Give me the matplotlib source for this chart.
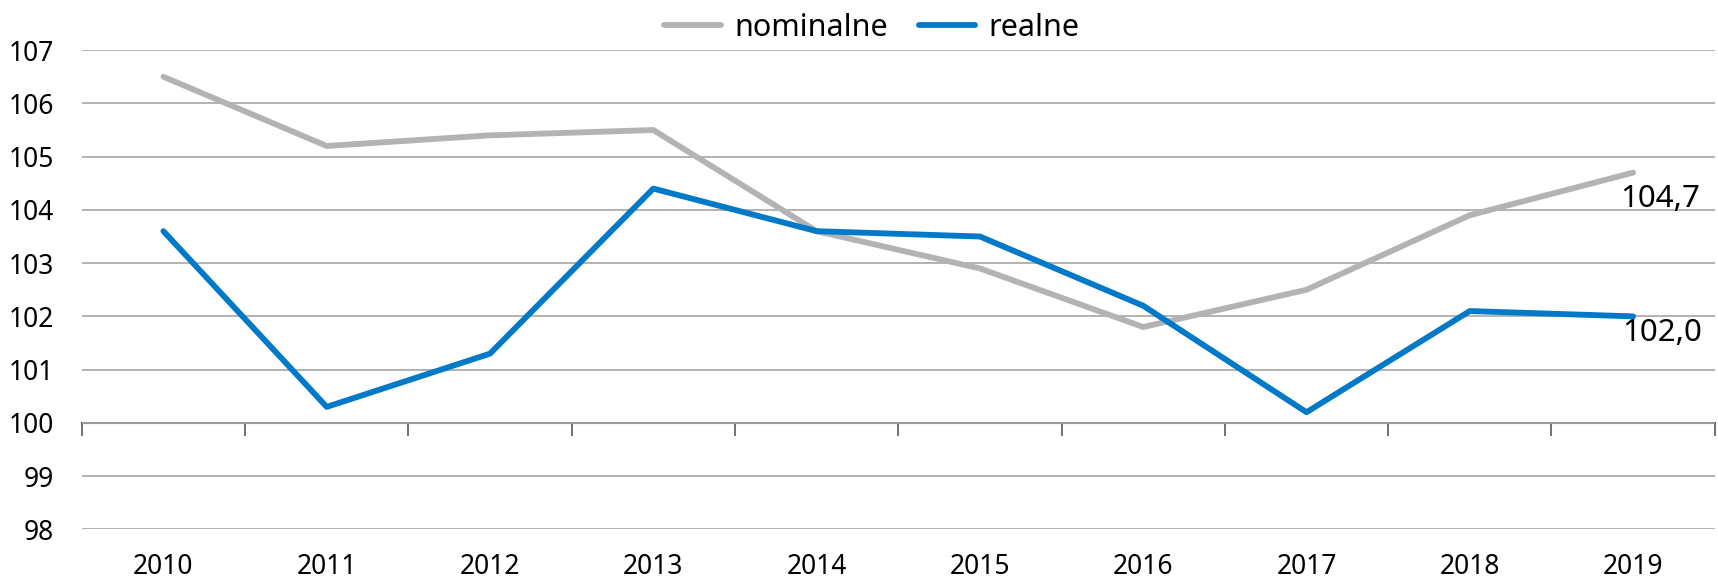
import matplotlib
matplotlib.use("Agg")
import matplotlib.pyplot as plt
import numpy as np

plt.rcParams['font.family'] = ['Noto Sans', 'DejaVu Sans']

# dane
years = ['2010', '2011', '2012', '2013', '2014', '2015', '2016', '2017', '2018', '2019']
nominalne = [106.5, 105.2, 105.4, 105.5, 103.6, 102.9, 101.8, 102.5, 103.9, 104.7]
realne = [103.6, 100.3, 101.3, 104.4, 103.6, 103.5, 102.2, 100.2, 102.1, 102.0]
end_labels = ['104,7', '102,0']
y_ticks = [98, 99, 100, 101, 102, 103, 104, 105, 106, 107]

grey = '#b3b3b3'
blue = '#0079c9'

fig = plt.figure(figsize=(17.18, 5.83), dpi=100)
ax = fig.add_axes([0.0476, 0.092, 0.9505, 0.822])

x = np.arange(len(years))
ax.plot(x, nominalne, color=grey, lw=4.2, solid_capstyle='round', label='nominalne', zorder=3)
ax.plot(x, realne, color=blue, lw=4.2, solid_capstyle='round', label='realne', zorder=4)

ax.set_xlim(-0.5, len(years) - 0.5)
ax.set_ylim(98, 107)
ax.set_yticks(y_ticks)
ax.set_xticks(x)
ax.set_xticklabels(years)
ax.tick_params(axis='both', length=0, labelsize=19, colors='black')
ax.tick_params(axis='x', pad=17)
ax.tick_params(axis='y', pad=20)
ax.yaxis.grid(True, color='#a6a6a6', lw=1.2)
ax.set_axisbelow(True)
for s in ax.spines.values():
    s.set_visible(False)

# oś pozioma na poziomie 100 z kreskami między latami
sec = ax.secondary_xaxis((100 - 98) / (107 - 98))
sec.set_xticks(np.arange(-0.5, len(years), 1.0))
sec.set_xticklabels([])
sec.tick_params(axis='x', direction='out', length=9, width=1.2, color='#595959')
sec.spines['bottom'].set_color('#595959')
sec.spines['bottom'].set_linewidth(1.5)

# etykiety wartości końcowych
offsets = [(-9, -8), (-8, -1)]
for vals, lab, off in zip([nominalne, realne], end_labels, offsets):
    ax.annotate(lab, (x[-1], vals[-1]), xytext=off, textcoords='offset points',
                ha='left', va='top', fontsize=22.5, color='black', zorder=5)

fig.legend(loc='upper center', bbox_to_anchor=(872 / 1718, 1.025), ncol=2, frameon=False,
           fontsize=22, handlelength=1.85, handletextpad=0.45, columnspacing=1.0)

fig.savefig('out.png', dpi=100)
